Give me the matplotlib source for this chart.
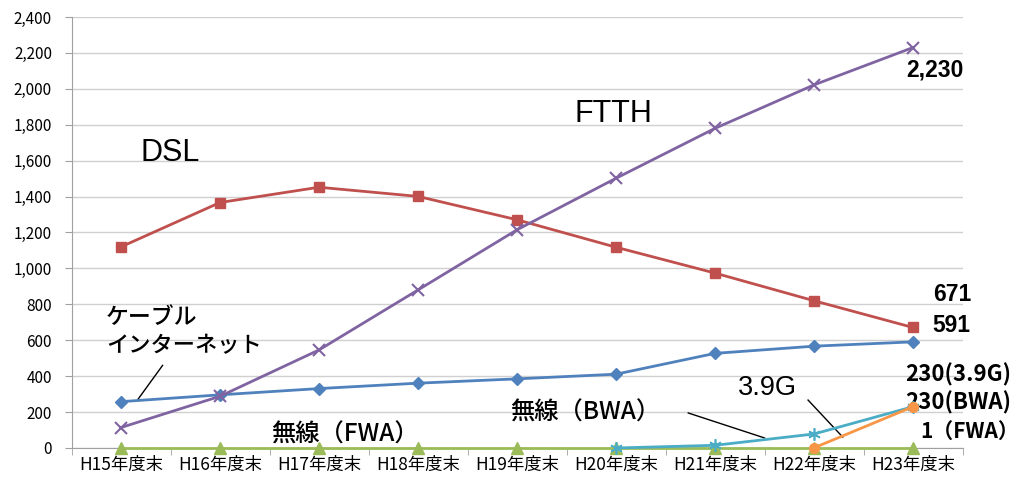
import matplotlib
matplotlib.use("Agg")
import matplotlib.pyplot as plt
from matplotlib.ticker import FuncFormatter, FixedLocator

plt.rcParams['font.family'] = ['Noto Sans CJK JP', 'DejaVu Sans']

# データ（万契約）
years = ['H15年度末', 'H16年度末', 'H17年度末', 'H18年度末', 'H19年度末',
         'H20年度末', 'H21年度末', 'H22年度末', 'H23年度末']
dsl = [1120, 1367, 1452, 1401, 1271, 1118, 974, 820, 671]
ftth = [114, 288, 546, 880, 1215, 1502, 1780, 2022, 2230]
cable = [258, 296, 331, 361, 385, 411, 527, 567, 591]
fwa = [1, 1, 1, 1, 1, 1, 1, 1, 1]
bwa = [0, 15, 78, 230]          # H20〜H23
lte = [1, 230]                   # H22〜H23 (3.9G)

x = list(range(len(years)))

fig = plt.figure(figsize=(10.19, 4.79), dpi=100)
ax = fig.add_axes([71.5 / 1019, 31 / 479, 891 / 1019, 431 / 479])

ax.plot(x, fwa, color='#9BBB59', lw=2, marker='^', ms=9, zorder=3, clip_on=False)
ax.plot(x, cable, color='#4F81BD', lw=2, marker='D', ms=6, zorder=4, clip_on=False)
ax.plot(x, dsl, color='#C0504D', lw=2, marker='s', ms=7, zorder=4)
ax.plot(x, ftth, color='#8064A2', lw=2, marker='x', ms=8, mew=1.5, zorder=4, clip_on=False)
ax.plot(x[5:], bwa, color='#4BACC6', lw=2, marker=(6, 2, 0), ms=9, mew=1.2, zorder=5, clip_on=False)
ax.plot(x[7:], lte, color='#F79646', lw=2, marker='o', ms=7, zorder=5, clip_on=False)

ax.set_xlim(-0.5, 8.5)
ax.set_ylim(0, 2400)
ax.set_yticks(range(0, 2401, 200))
ax.yaxis.set_major_formatter(FuncFormatter(lambda v, p: f'{int(v):,}'))
ax.set_xticks(x)
ax.set_xticklabels(years, fontsize=12.5)
ax.xaxis.set_minor_locator(FixedLocator([i + 0.5 for i in range(-1, 9)]))
ax.tick_params(axis='x', which='major', length=0, pad=6)
ax.tick_params(axis='x', which='minor', length=5, color='#A0A0A0')
ax.tick_params(axis='y', length=5, color='#A0A0A0', labelsize=11, pad=9)
ax.grid(axis='y', color='#D0D0D0', lw=1)
ax.set_axisbelow(True)
for s in ['top', 'right']:
    ax.spines[s].set_visible(False)
for s in ['left', 'bottom']:
    ax.spines[s].set_color('#A0A0A0')

# 系列名
lat = ['Liberation Sans', 'DejaVu Sans']
ax.text(0.2, 1640, 'DSL', fontsize=22, va='center', family=lat)
ax.text(4.58, 1860, 'FTTH', fontsize=22, va='center', family=lat)
ax.text(-0.15, 729, 'ケーブル', fontsize=16.5, va='center', fontweight='medium')
ax.text(-0.15, 568, 'インターネット', fontsize=16, va='center', fontweight='medium')
ax.plot([0.42, 0.17], [460, 270], color='black', lw=1)
ax.text(1.52, 72, '無線（FWA）', fontsize=17.5, va='center', fontweight='medium')
ax.text(3.93, 195, '無線（BWA）', fontsize=17.5, va='center', fontweight='medium')
ax.plot([5.73, 6.5], [195, 56], color='black', lw=1)
ax.text(6.23, 335, '3.9G', fontsize=19.5, va='center', family=lat)
ax.plot([6.94, 7.29], [267, 61], color='black', lw=1)

# 最終年度の値
kw = dict(fontsize=16.5, fontweight='bold', va='center', clip_on=False, family=lat)
ax.text(7.93, 2105, '2,230', **kw)
ax.text(8.2, 855, '671', **kw)
ax.text(8.2, 682, '591', **kw)
kj = dict(fontsize=16, fontweight='bold', va='center', clip_on=False)
ax.text(7.92, 410, '230(3.9G)', **kj)
ax.text(7.92, 250, '230(BWA)', **kj)
ax.text(8.07, 95, '1（FWA）', fontsize=15, fontweight='bold', va='center', clip_on=False)

fig.savefig('out.png', dpi=100)
